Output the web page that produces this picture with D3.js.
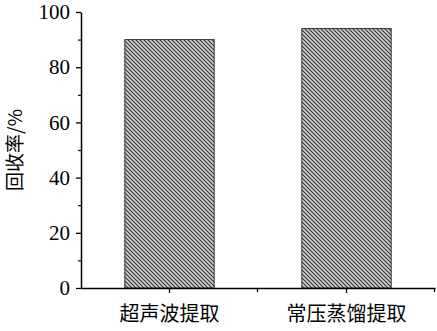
<!DOCTYPE html>
<html>
<head>
<meta charset="utf-8">
<script src="https://cdn.jsdelivr.net/npm/d3@7"></script>
<style>
  body { margin: 0; background: #fff; }
  svg { display: block; }
</style>
</head>
<body>
<svg id="chart" width="437" height="331"></svg>
<script>
const categories = ["超声波提取", "常压蒸馏提取"];
const values = [90, 94];
const yTicks = [0, 20, 40, 60, 80, 100];
const yMinorTicks = [10, 30, 50, 70, 90];

const width = 437, height = 331;
const margin = { top: 12, right: 2, bottom: 43, left: 81 };

const svg = d3.select("#chart");
const serif = "'Liberation Serif', 'Times New Roman', serif";
const cjk = "'Noto Sans CJK SC', serif";

// hatch pattern for the bars
const defs = svg.append("defs");
const pat = defs.append("pattern")
    .attr("id", "hatch")
    .attr("patternUnits", "userSpaceOnUse")
    .attr("width", 4)
    .attr("height", 4);
pat.append("rect").attr("width", 4).attr("height", 4).attr("fill", "#cfcfcf");
pat.append("path")
    .attr("d", "M-1,-1 L5,5 M-1,3 L1,5 M3,-1 L5,1")
    .attr("stroke", "#333")
    .attr("stroke-width", 1.1);

const x = d3.scaleBand()
    .domain(categories)
    .range([margin.left, width - margin.right])
    .paddingInner(0)
    .paddingOuter(0);

const y = d3.scaleLinear()
    .domain([0, 100])
    .range([height - margin.bottom, margin.top]);

const barW = x.bandwidth() * 0.505;

// bars
svg.append("g")
  .selectAll("rect")
  .data(categories)
  .join("rect")
    .attr("x", (d) => x(d) + (x.bandwidth() - barW) / 2)
    .attr("y", (d, i) => y(values[i]))
    .attr("width", barW)
    .attr("height", (d, i) => y(0) - y(values[i]))
    .attr("fill", "url(#hatch)")
    .attr("stroke", "#333")
    .attr("stroke-width", 1);

// y axis
const yAxis = svg.append("g")
    .attr("transform", `translate(${margin.left},0)`)
    .call(d3.axisLeft(y).tickValues(yTicks).tickSize(5).tickSizeOuter(0).tickPadding(6))
    .call((g) => g.select(".domain").attr("stroke", "#000").attr("stroke-width", 1.5));
yAxis.selectAll(".tick line").attr("stroke-width", 1.3);
yAxis.selectAll(".tick text")
    .style("font-family", serif)
    .style("font-size", "21px")
    .attr("fill", "#000");

svg.append("g")
    .attr("transform", `translate(${margin.left},0)`)
    .call(d3.axisLeft(y).tickValues(yMinorTicks).tickSize(3).tickFormat(""))
    .call((g) => g.select(".domain").remove())
    .selectAll(".tick line").attr("stroke-width", 1.2);

// x axis
const boundaries = [x(categories[1]), width - margin.right];
const xAxis = svg.append("g")
    .attr("transform", `translate(0,${y(0)})`)
    .call(d3.axisBottom(x).tickSize(5).tickSizeOuter(0).tickPadding(14))
    .call((g) => g.select(".domain").attr("stroke", "#000").attr("stroke-width", 1.5));
xAxis.selectAll(".tick line").attr("stroke-width", 1.3);
xAxis.selectAll(".tick text")
    .style("font-family", cjk)
    .style("font-size", "20px")
    .attr("fill", "#000");
xAxis.selectAll(".bound")
  .data(boundaries)
  .join("line")
    .attr("class", "bound")
    .attr("x1", (d) => d - 0.5)
    .attr("x2", (d) => d - 0.5)
    .attr("y1", 0)
    .attr("y2", 4)
    .attr("stroke", "#000")
    .attr("stroke-width", 1.3);

// y label
svg.append("text")
    .attr("transform", `translate(22,${(margin.top + height - margin.bottom) / 2}) rotate(-90)`)
    .attr("text-anchor", "middle")
    .style("font-family", cjk)
    .style("font-size", "19px")
    .text("回收率/%");
</script>
</body>
</html>
